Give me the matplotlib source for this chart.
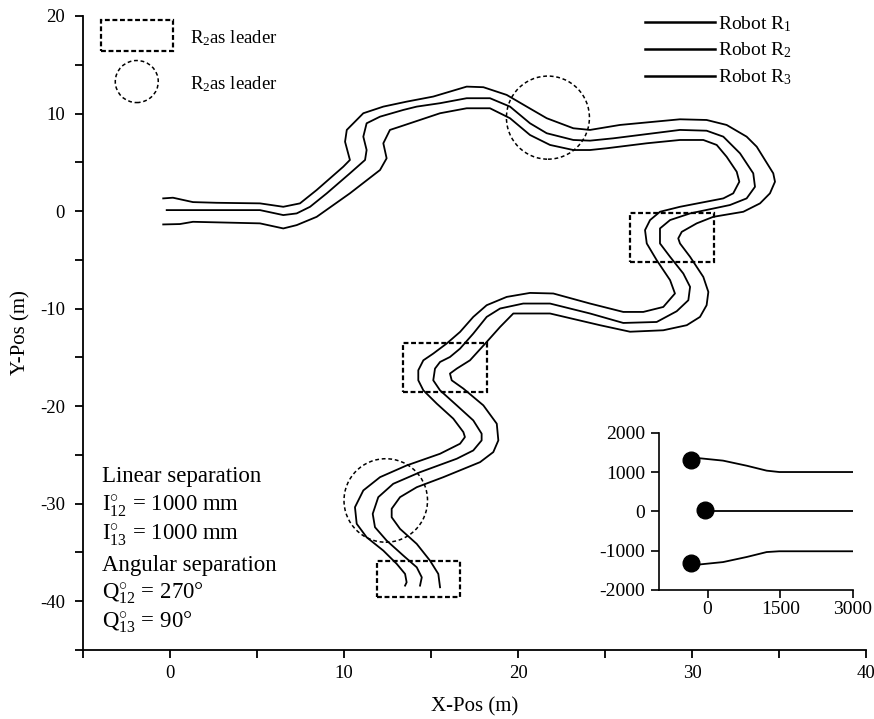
import matplotlib
matplotlib.use('Agg')
import matplotlib.pyplot as plt
from matplotlib.patches import Rectangle, Ellipse
from matplotlib.ticker import MultipleLocator

plt.rcParams['font.family'] = ['Liberation Serif', 'DejaVu Serif']
plt.rcParams['mathtext.fontset'] = 'custom'
plt.rcParams['mathtext.rm'] = 'Liberation Serif'
plt.rcParams['mathtext.it'] = 'Liberation Serif:italic'
plt.rcParams['axes.unicode_minus'] = False

# ---- trajectories (m) ----
r1_x = [-0.39, 0.17, 1.32, 2.68, 5.17, 6.51, 7.47, 8.43, 9.96, 10.34, 10.06, 10.16, 11.11, 12.26, 13.60,
        15.13, 16.09, 17.05, 18.01, 19.35, 20.50, 21.65, 23.18, 24.14, 25.86, 29.31, 30.84, 31.99, 33.14,
        33.72, 34.67, 34.77, 34.48, 33.91, 32.95, 31.22, 30.27, 29.41, 29.21, 29.31, 29.89, 30.65, 30.94,
        30.84, 30.46, 29.70, 28.35, 26.44, 24.71, 21.84, 19.73, 18.97, 18.20, 17.24, 16.48, 16.09, 16.19,
        16.86, 18.01, 18.78, 18.87, 18.58, 17.82, 15.71, 14.18, 13.22, 12.74, 12.74, 13.22, 14.18, 14.94,
        15.42, 15.52]
r1_y = [1.30, 1.37, 0.92, 0.85, 0.79, 0.44, 0.79, 2.16, 4.55, 5.24, 7.11, 8.32, 10.03, 10.71, 11.22,
        11.74, 12.25, 12.76, 12.70, 11.91, 10.71, 9.52, 8.49, 8.32, 8.83, 9.41, 9.34, 8.83, 7.63,
        6.60, 3.87, 3.01, 1.82, 0.79, -0.07, -0.59, -1.26, -2.13, -2.80, -3.32, -4.69, -6.75, -8.29,
        -9.65, -10.85, -11.70, -12.22, -12.37, -11.70, -10.50, -10.50, -11.88, -13.42, -15.30, -16.15, -16.66, -17.35,
        -18.20, -19.92, -21.80, -23.51, -24.71, -25.74, -27.28, -28.31, -29.33, -30.52, -31.39, -32.58, -34.12, -35.83,
        -37.20, -38.57]

r2_x = [-0.19, 5.17, 6.51, 7.28, 8.05, 9.01, 10.34, 11.21, 11.30, 11.11, 11.30, 12.07, 13.41, 14.18, 15.52,
        17.05, 18.39, 19.54, 20.69, 21.65, 23.18, 24.14, 25.48, 29.31, 30.84, 31.80, 32.76, 33.52, 33.62,
        33.14, 32.18, 29.89, 28.74, 28.16, 28.16, 28.74, 29.50, 29.89, 29.79, 29.12, 27.97, 26.05, 24.14,
        21.84, 20.30, 18.97, 18.20, 17.43, 16.67, 16.09, 15.52, 15.23, 15.13, 15.52, 16.48, 17.43, 17.91,
        17.91, 17.43, 16.48, 14.37, 12.83, 11.97, 11.65, 11.78, 12.45, 13.41, 14.18, 14.47, 14.37]
r2_y = [0.10, 0.10, -0.41, -0.24, 0.44, 1.82, 3.87, 5.24, 6.26, 7.63, 9.00, 9.68, 10.37, 10.71, 11.06,
        11.57, 11.57, 10.71, 9.00, 7.98, 7.29, 7.22, 7.46, 8.32, 8.24, 7.63, 5.92, 3.87, 2.49,
        1.30, 0.62, -0.24, -0.92, -1.78, -3.32, -4.69, -6.40, -7.77, -9.14, -10.27, -11.37, -11.47, -10.50,
        -9.48, -9.48, -9.99, -10.85, -12.56, -14.10, -14.96, -15.47, -16.15, -17.35, -18.38, -19.92, -21.46, -22.82,
        -23.51, -24.54, -25.39, -26.77, -27.96, -29.33, -31.04, -32.41, -33.78, -35.32, -36.52, -37.55, -38.40]

r3_x = [-0.39, 0.57, 1.32, 5.17, 6.51, 7.28, 8.43, 10.34, 12.07, 12.45, 12.26, 12.64, 13.22, 15.52, 17.05,
        18.39, 19.54, 20.69, 21.84, 23.18, 24.14, 25.10, 27.40, 29.31, 30.65, 31.42, 31.99, 32.57, 32.72,
        32.37, 31.80, 29.31, 28.16, 27.59, 27.30, 27.40, 27.97, 28.74, 29.02, 28.35, 27.20, 26.05, 24.14,
        22.03, 20.69, 19.35, 18.20, 17.43, 16.67, 15.90, 15.13, 14.56, 14.27, 14.27, 14.56, 15.33, 16.28,
        16.86, 16.95, 16.67, 15.52, 13.60, 12.07, 11.11, 10.63, 10.73, 11.30, 12.26, 13.03, 13.51, 13.60, 13.51]
r3_y = [-1.37, -1.33, -1.10, -1.26, -1.78, -1.44, -0.59, 1.82, 4.21, 5.41, 6.95, 8.32, 8.66, 10.03, 10.54,
        10.54, 9.52, 7.80, 6.78, 6.26, 6.26, 6.44, 6.95, 7.29, 7.29, 6.78, 5.57, 4.03, 3.01,
        1.82, 1.30, 0.44, -0.07, -0.92, -1.95, -3.32, -5.03, -7.08, -8.45, -9.83, -10.34, -10.34, -9.48,
        -8.45, -8.39, -8.80, -9.65, -10.85, -12.39, -13.58, -14.61, -15.30, -16.32, -17.35, -18.38, -19.74, -21.28,
        -22.66, -23.17, -23.85, -24.88, -26.08, -27.28, -28.64, -30.36, -32.06, -33.44, -34.81, -36.17, -37.20, -38.06, -38.40]

robot_labels = [r'Robot R$_{\mathrm{1}}$', r'Robot R$_{\mathrm{2}}$', r'Robot R$_{\mathrm{3}}$']

# leader-switch regions (m)
rect_x0 = [26.44, 13.37, 11.88]
rect_y0 = [-5.21, -18.55, -39.60]
rect_x1 = [31.26, 18.20, 16.67]
rect_y1 = [-0.17, -13.52, -35.83]
circ_cx = [21.72, 12.40]
circ_cy = [9.58, -29.67]
circ_w = [4.77, 4.80]
circ_h = [8.52, 8.56]

# inset: formation (mm)
in_top_x = [-350, -160, 320, 810, 1220, 1480, 3000]
in_top_y = [1330, 1350, 1290, 1160, 1035, 1000, 1000]
in_mid_x = [-60, 3000]
in_mid_y = [0, 0]
in_bot_x = [-350, -160, 320, 810, 1220, 1480, 3000]
in_bot_y = [-1330, -1350, -1290, -1160, -1035, -1015, -1015]
dot_x = [-350, -60, -350]
dot_y = [1300, 30, -1310]

info_lines = ['Linear separation',
              r'I$^{\circ}_{12}$ = 1000 mm',
              r'I$^{\circ}_{13}$ = 1000 mm',
              'Angular separation',
              r'Q$^{\circ}_{12}$ = 270°',
              r'Q$^{\circ}_{13}$ = 90°']
info_y = [-27.8, -30.7, -33.7, -36.85, -39.75, -42.65]

W, H = 874, 719
fig = plt.figure(figsize=(W / 100, H / 100), dpi=100)
ax = fig.add_axes([83 / W, 1 - 650 / H, (866 - 83) / W, (650 - 16) / H])

lines = []
for xs, ys, lab in zip([r1_x, r2_x, r3_x], [r1_y, r2_y, r3_y], robot_labels):
    ln, = ax.plot(xs, ys, color='black', lw=1.3, label=lab)
    lines.append(ln)

for x0, y0, x1, y1 in zip(rect_x0, rect_y0, rect_x1, rect_y1):
    ax.add_patch(Rectangle((x0, y0), x1 - x0, y1 - y0, fill=False, ec='black',
                           lw=1.6, ls=(0, (2.2, 1.2))))
for cx, cy, w, h in zip(circ_cx, circ_cy, circ_w, circ_h):
    ax.add_patch(Ellipse((cx, cy), w, h, fill=False, ec='black', lw=1.1, ls=(0, (2.5, 1.8))))

ax.set_xlim(-5, 40)
ax.set_ylim(-45, 20)
ax.spines['top'].set_visible(False)
ax.spines['right'].set_visible(False)
for s in ('left', 'bottom'):
    ax.spines[s].set_linewidth(1.3)
ax.xaxis.set_major_locator(MultipleLocator(10))
ax.xaxis.set_minor_locator(MultipleLocator(5))
ax.yaxis.set_major_locator(MultipleLocator(10))
ax.yaxis.set_minor_locator(MultipleLocator(5))
ax.tick_params(axis='both', which='both', direction='out', length=6, width=1.3)
ax.tick_params(axis='x', which='major', pad=5, labelsize=13.5)
ax.tick_params(axis='y', which='major', pad=7, labelsize=13.5)
ax.set_xlabel('X-Pos (m)', fontsize=15, labelpad=11)
ax.set_ylabel('Y-Pos (m)', fontsize=15, labelpad=7)

# leader key
ax.add_patch(Rectangle((-3.98, 16.43), 4.17, 3.18, fill=False, ec='black', lw=1.6,
                       ls=(0, (2.2, 1.2)), clip_on=False))
ax.add_patch(Ellipse((-1.91, 13.28), 2.47, 4.31, fill=False, ec='black', lw=1.1,
                     ls=(0, (2.5, 1.8)), clip_on=False))
ax.text(1.15, 17.22, r'R$_{\mathrm{2}}$as leader', fontsize=13.5, va='baseline')
ax.text(1.15, 12.49, r'R$_{\mathrm{2}}$as leader', fontsize=13.5, va='baseline')

leg = ax.legend(handles=lines, loc='upper left', bbox_to_anchor=(645 / W, 1 - 14 / H),
                bbox_transform=fig.transFigure, frameon=False, fontsize=14,
                handlelength=3.6, handletextpad=0.15, labelspacing=0.36,
                borderpad=0, borderaxespad=0)
for h in leg.legend_handles:
    h.set_linewidth(1.8)

for txt, yy in zip(info_lines, info_y):
    ax.text(-3.93, yy, txt, fontsize=16.5, va='baseline')

# inset
ax2 = fig.add_axes([659 / W, 1 - 590 / H, (853 - 659) / W, (590 - 432.7) / H])
ax2.plot(in_top_x, in_top_y, color='black', lw=1.3)
ax2.plot(in_mid_x, in_mid_y, color='black', lw=1.3)
ax2.plot(in_bot_x, in_bot_y, color='black', lw=1.3)
ax2.plot(dot_x, dot_y, 'o', color='black', ms=12, ls='none')
ax2.set_xlim(-1000, 3000)
ax2.set_ylim(-2000, 2000)
ax2.set_xticks([0, 1500, 3000])
ax2.set_yticks([-2000, -1000, 0, 1000, 2000])
ax2.spines['top'].set_visible(False)
ax2.spines['right'].set_visible(False)
for s in ('left', 'bottom'):
    ax2.spines[s].set_linewidth(1.2)
ax2.tick_params(direction='out', length=6, width=1.2, labelsize=14)
ax2.tick_params(axis='x', pad=2)
ax2.tick_params(axis='y', pad=4)
ax2.patch.set_alpha(0)

fig.savefig('out.png', dpi=100)
